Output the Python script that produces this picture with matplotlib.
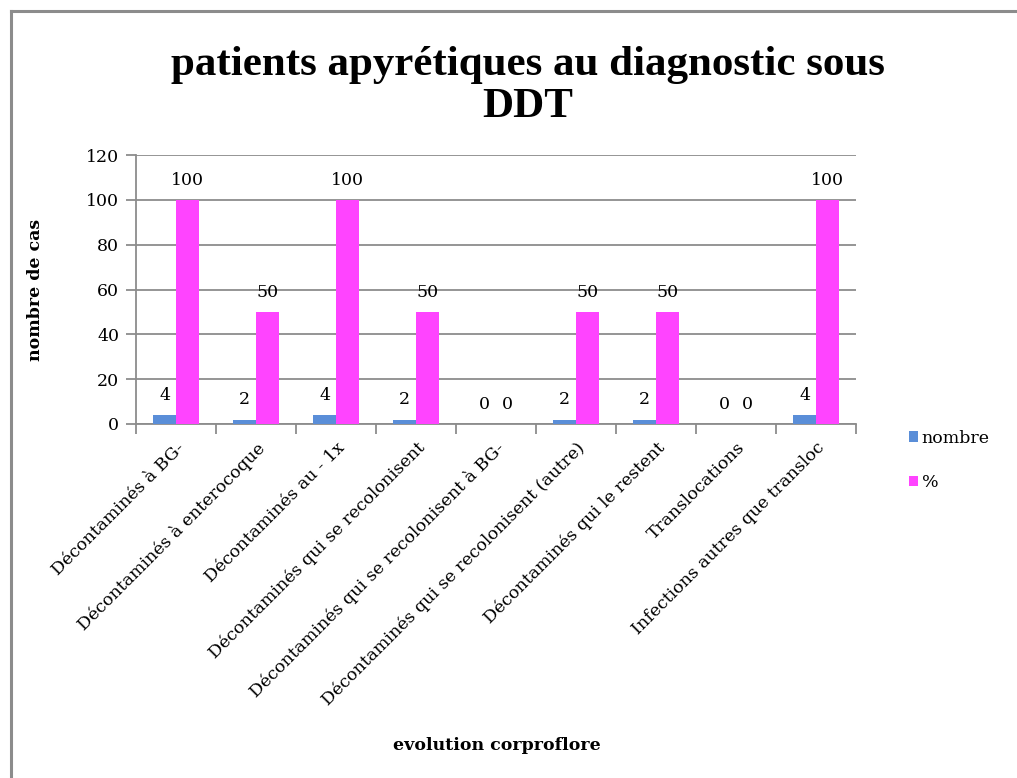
import matplotlib
matplotlib.use("Agg")
import matplotlib.pyplot as plt
import numpy as np
from matplotlib.lines import Line2D
from matplotlib.patches import Patch

categories = [
    "Décontaminés à BG-",
    "Décontaminés à enterocoque",
    "Décontaminés au - 1x",
    "Décontaminés qui se recolonisent",
    "Décontaminés qui se recolonisent à BG-",
    "Décontaminés qui se recolonisent (autre)",
    "Décontaminés qui le restent",
    "Translocations",
    "Infections autres que transloc",
]
nombre = [4, 2, 4, 2, 0, 2, 2, 0, 4]
pourcent = [100, 50, 100, 50, 0, 50, 50, 0, 100]
yticks = [0, 20, 40, 60, 80, 100, 120]

plt.rcParams["font.family"] = ["DejaVu Serif", "Liberation Serif"]

W, H = 1017, 778
fig = plt.figure(figsize=(W / 100, H / 100), dpi=100)
ax = fig.add_axes([136 / W, 1 - 424 / H, 720 / W, 269 / H])

x = np.arange(len(categories))
bw = 0.2875
blue = "#5A8ED8"
mag = "#FF44FF"
b1 = ax.bar(x - bw / 2, nombre, bw, color=blue, zorder=3)
b2 = ax.bar(x + bw / 2, pourcent, bw, color=mag, zorder=3)

for bars, vals in ((b1, nombre), (b2, pourcent)):
    for r, v in zip(bars, vals):
        ax.annotate(str(v), (r.get_x() + r.get_width() / 2, v),
                    xytext=(0, 8), textcoords="offset points",
                    ha="center", va="bottom", fontsize=12.5)

ax.set_xlim(-0.5, len(categories) - 0.5)
ax.set_ylim(0, 120)
ax.set_yticks(yticks)
ax.set_yticklabels([str(t) for t in yticks], fontsize=12.5)
ax.yaxis.grid(True, color="#8c8c8c", linewidth=1.3, zorder=0)
ax.set_axisbelow(True)

ax.set_xticks(x)
ax.set_xticklabels(categories, rotation=45, ha="right", rotation_mode="anchor", fontsize=12.5)
ax.tick_params(axis="x", which="major", length=0, pad=11)
ax.set_xticks(np.arange(-0.5, len(categories), 1), minor=True)
ax.tick_params(axis="x", which="minor", length=7, width=1.3, color="#8c8c8c")
ax.tick_params(axis="y", length=7, width=1.3, color="#8c8c8c", pad=5)

for s in ("top", "right"):
    ax.spines[s].set_visible(False)
for s in ("left", "bottom"):
    ax.spines[s].set_color("#8c8c8c")
    ax.spines[s].set_linewidth(1.3)

fig.text(36 / W, 1 - 290 / H, "nombre de cas", rotation=90, ha="center", va="center",
         fontsize=12.5, fontweight="bold")
fig.text(497 / W, 1 - 745 / H, "evolution corproflore", ha="center", va="center",
         fontsize=12.5, fontweight="bold")

fig.text(528 / W, 1 - 86 / H, "patients apyrétiques au diagnostic sous\nDDT",
         ha="center", va="center", fontsize=31, fontweight="bold",
         linespacing=1.12, family=["Liberation Serif", "DejaVu Serif"])

handles = [Patch(facecolor=blue), Patch(facecolor=mag)]
fig.legend(handles, ["nombre", "%"], loc="upper left",
           bbox_to_anchor=(893 / W, 1 - 414 / H), frameon=False,
           fontsize=12.5, handlelength=0.55, handleheight=0.55,
           handletextpad=0.2, labelspacing=1.6)

# figure border (left and top edges)
fig.add_artist(Line2D([11 / W, 11 / W], [0, 1 - 11 / H], color="#8c8c8c", linewidth=2.2,
                      transform=fig.transFigure))
fig.add_artist(Line2D([11 / W, 1], [1 - 11 / H, 1 - 11 / H], color="#8c8c8c", linewidth=2.2,
                      transform=fig.transFigure))

fig.savefig("out.png", dpi=100)
